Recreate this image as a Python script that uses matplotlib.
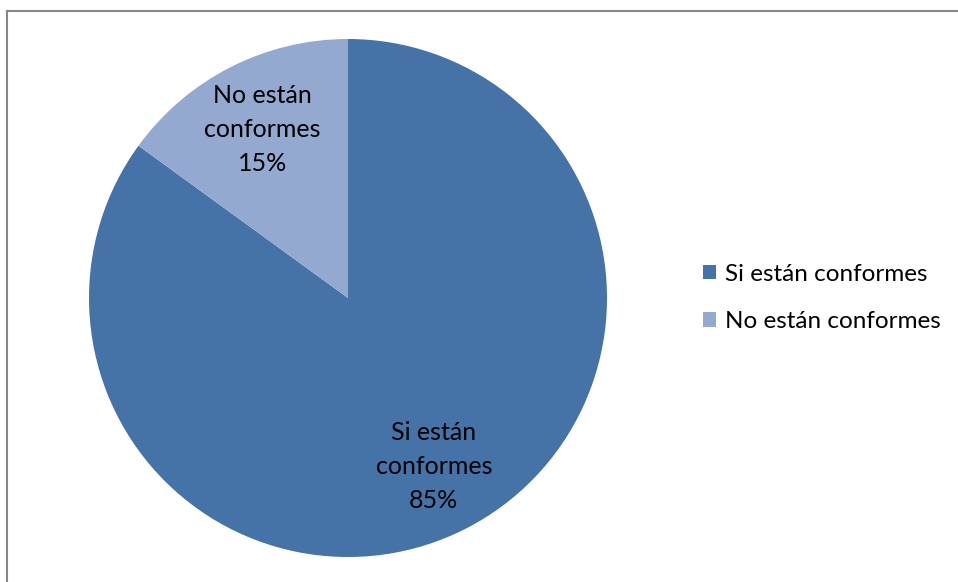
import matplotlib
matplotlib.use("Agg")
import matplotlib.pyplot as plt
import numpy as np

plt.rcParams['font.family'] = ['Lato', 'DejaVu Sans']

categories = ["Si están conformes", "No están conformes"]
wedge_labels = ["Si están\nconformes", "No están\nconformes"]
percentages = [85, 15]
colors = ["#4572A7", "#93A9CF"]

W, H = 958, 582
fig = plt.figure(figsize=(W / 100, H / 100), dpi=100)

# grey frame (top and left edges only)
frame = fig.add_axes([0, 0, 1, 1])
frame.set_xlim(0, W)
frame.set_ylim(H, 0)
frame.axis('off')
frame.plot([7.5, W], [11, 11], color="#878787", lw=1.5)
frame.plot([7.5, 7.5], [11, H], color="#878787", lw=1.5)

cx, cy, r = 348, 298, 259
ax = fig.add_axes([(cx - r) / W, (H - cy - r) / H, 2 * r / W, 2 * r / H])
wedges, _ = ax.pie(percentages, colors=colors, startangle=90, counterclock=False,
                   radius=1, wedgeprops=dict(linewidth=0))
ax.set_xlim(-1, 1)
ax.set_ylim(-1, 1)
ax.set_aspect('equal')

for w, lab, p in zip(wedges, wedge_labels, percentages):
    mid = np.deg2rad((w.theta1 + w.theta2) / 2)
    d = 0.73
    ax.text(d * np.cos(mid), d * np.sin(mid), f"{lab}\n{p}%", ha='center', va='center',
            fontsize=18, linespacing=1.6, color="black")

leg = fig.legend(wedges, categories, loc='center left', bbox_to_anchor=(681 / W, 1 - 298 / H),
                 frameon=False, fontsize=17.5, handlelength=0.55, handleheight=0.55,
                 handletextpad=0.35, labelspacing=1.1)

fig.savefig("out.png", dpi=100)
